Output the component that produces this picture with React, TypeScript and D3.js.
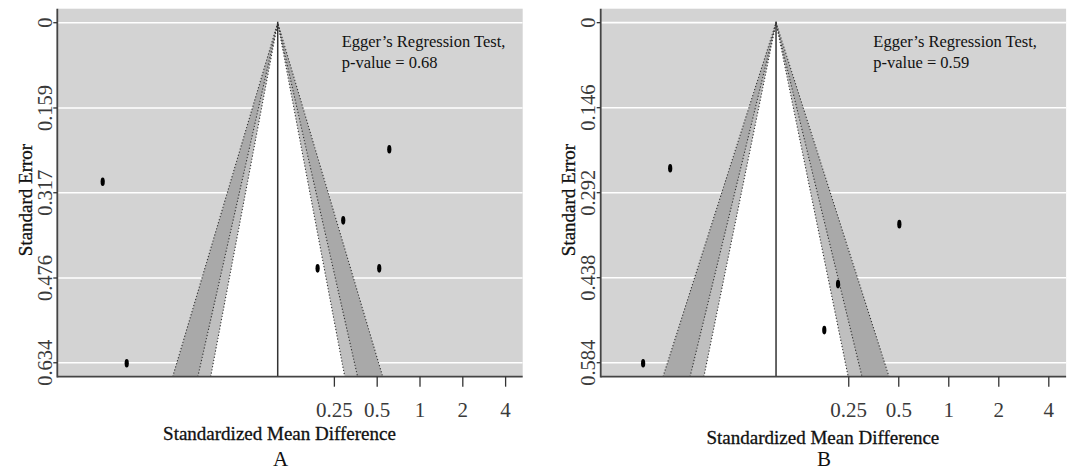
import React from "react";
import * as d3 from "d3";

// ---------- data ----------
const seTicksA = [0, 0.159, 0.317, 0.476, 0.634];
const seTicksB = [0, 0.146, 0.292, 0.438, 0.584];
const xTickValues = [0.25, 0.5, 1, 2, 4];
const xTickLabels = ["0.25", "0.5", "1", "2", "4"];

// study estimates (log scale) and standard errors
const logSmdA = [-5.138, -4.749, -0.497, -1.243, -1.658, -0.66];
const seA = [0.2965, 0.635, 0.236, 0.3685, 0.458, 0.458];
const logSmdB = [-3.861, -4.236, -0.685, -1.535, -1.725];
const seB = [0.25, 0.585, 0.346, 0.449, 0.528];

const pooledA = -2.304;
const pooledB = -2.394;
const pValueA = "0.68";
const pValueB = "0.59";

const xDomainA = [-5.873, 1.663];
const xDomainB = [-4.824, 1.626];
const seDomainA = [-0.0261, 0.66];
const seDomainB = [-0.024, 0.608];

// contour levels (99%, 95%, 90%)
const contourZ = [2.576, 1.96, 1.645];
const contourFill = ["#a9a9a9", "#bfbfbf", "#ffffff"];

const panelLetters = ["A", "B"];

const SERIF = "'Liberation Serif', 'Times New Roman', serif";

type PanelProps = {
  id: string;
  letter: string;
  left: number;
  xs: number[];
  ses: number[];
  pooled: number;
  pValue: string;
  xDomain: number[];
  seDomain: number[];
  seTicks: number[];
  titleY: number;
  letterY: number;
  eggerX: number;
};

function Panel(p: PanelProps) {
  const width = 465.4;
  const top = 8.7;
  const bottom = 376.7;
  const left = p.left;
  const right = left + width;
  const x = d3.scaleLinear().domain(p.xDomain).range([left, right]);
  const y = d3.scaleLinear().domain(p.seDomain).range([top, bottom]);
  const seMax = p.seDomain[1];
  const line = d3
    .line<[number, number]>()
    .x((d) => x(d[0]))
    .y((d) => y(d[1]));

  const tri = (z: number): [number, number][] => [
    [p.pooled - z * seMax, seMax],
    [p.pooled, 0],
    [p.pooled + z * seMax, seMax],
  ];

  const clipId = "clip" + p.id;
  const cx = (left + right) / 2 - 10.5;

  return (
    <g>
      <defs>
        <clipPath id={clipId}>
          <rect x={left} y={top} width={width} height={bottom - top} />
        </clipPath>
      </defs>
      <rect x={left} y={top} width={width} height={bottom - top} fill="#d3d3d3" />
      <g clipPath={`url(#${clipId})`}>
        {p.seTicks.map((t, i) => (
          <line key={i} x1={left} x2={right} y1={y(t)} y2={y(t)} stroke="#ffffff" strokeWidth={1.6} />
        ))}
        {contourZ.map((z, i) => (
          <path key={"f" + i} d={line(tri(z)) + "Z"} fill={contourFill[i]} stroke="none" />
        ))}
        {contourZ.map((z, i) => (
          <path
            key={"d" + i}
            d={line(tri(z)) || ""}
            fill="none"
            stroke="#333"
            strokeWidth={1.1}
            strokeDasharray="1.2 2"
          />
        ))}
        <line x1={x(p.pooled)} x2={x(p.pooled)} y1={y(0) - 1} y2={bottom} stroke="#333" strokeWidth={1.5} />
        {p.xs.map((v, i) => (
          <ellipse key={i} cx={x(v)} cy={y(p.ses[i])} rx={2.1} ry={4.3} fill="#000" />
        ))}
      </g>
      {/* axes */}
      <line x1={left} x2={left} y1={top} y2={bottom + 0.8} stroke="#444" strokeWidth={1.8} />
      <line x1={left} x2={right} y1={bottom} y2={bottom} stroke="#444" strokeWidth={1.8} />
      {p.seTicks.map((t, i) => (
        <g key={"yt" + i}>
          <line x1={left - 4} x2={left} y1={y(t)} y2={y(t)} stroke="#333" strokeWidth={1.3} />
          <text
            transform={`translate(${left - 5.8},${y(t)}) rotate(-90)`}
            textAnchor="middle"
            fontFamily={SERIF}
            fontSize={20.5}
            fill="#3a3a3a"
          >
            {String(t)}
          </text>
        </g>
      ))}
      {xTickValues.map((v, i) => (
        <g key={"xt" + i}>
          <line x1={x(Math.log(v))} x2={x(Math.log(v))} y1={bottom} y2={bottom + 10} stroke="#333" strokeWidth={1.3} />
          <text x={x(Math.log(v))} y={416.7} textAnchor="middle" fontFamily={SERIF} fontSize={21} fill="#3a3a3a">
            {xTickLabels[i]}
          </text>
        </g>
      ))}
      <text
        transform={`translate(${left - 25.6},${200}) rotate(-90)`}
        textAnchor="middle"
        fontFamily={SERIF}
        fontSize={19}
        fill="#111"
        stroke="#111"
        strokeWidth={0.3}
      >
        Standard Error
      </text>
      <text
        x={cx}
        y={p.titleY}
        textAnchor="middle"
        fontFamily={SERIF}
        fontSize={19}
        fill="#111"
        stroke="#111"
        strokeWidth={0.3}
      >
        Standardized Mean Difference
      </text>
      <text x={cx + 1.2} y={p.letterY} textAnchor="middle" fontFamily={SERIF} fontSize={21} fill="#111">
        {p.letter}
      </text>
      <text x={p.eggerX} y={46.7} fontFamily={SERIF} fontSize={16.5} fill="#111">
        Egger’s Regression Test,
      </text>
      <text x={p.eggerX} y={68.3} fontFamily={SERIF} fontSize={16.5} fill="#111">
        {`p-value = ${p.pValue}`}
      </text>
    </g>
  );
}

export default function App() {
  return (
    <svg
      width={1072}
      height={471}
      style={{ position: "absolute", left: 0, top: 0, background: "#fff" }}
    >
      <Panel
        id="A"
        letter={panelLetters[0]}
        left={57.3}
        xs={logSmdA}
        ses={seA}
        pooled={pooledA}
        pValue={pValueA}
        xDomain={xDomainA}
        seDomain={seDomainA}
        seTicks={seTicksA}
        titleY={440}
        letterY={466}
        eggerX={341.7}
      />
      <Panel
        id="B"
        letter={panelLetters[1]}
        left={600.7}
        xs={logSmdB}
        ses={seB}
        pooled={pooledB}
        pValue={pValueB}
        xDomain={xDomainB}
        seDomain={seDomainB}
        seTicks={seTicksB}
        titleY={443.5}
        letterY={466}
        eggerX={873.3}
      />
    </svg>
  );
}
